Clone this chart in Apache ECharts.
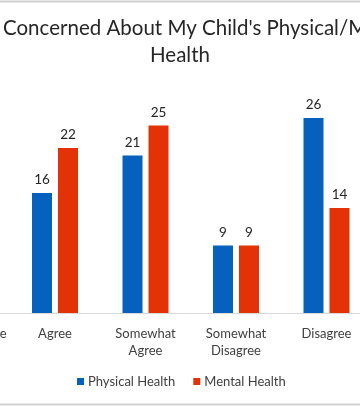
<!DOCTYPE html>
<html><head><meta charset="utf-8">
<script src="https://cdn.jsdelivr.net/npm/echarts@6/dist/echarts.min.js"></script>
<style>html,body{margin:0;padding:0;background:#fff;overflow:hidden;width:360px;height:406px}#c{position:absolute;left:-90px;top:0;width:562px;height:406px}</style>
</head><body><div id="c"></div>
<script>
const categories = ["Strongly Agree", "Agree", "Somewhat Agree", "Somewhat Disagree", "Disagree", "Strongly Disagree"];
const physical = [null, 16, 21, 9, 26, null];
const mental = [null, 22, 25, 9, 14, null];
const titleLine1 = "Concerned About My Child's Physical/Mental";
const titleLine2 = "Health";
const FONT = "Lato";
const OX = 90;
const chart = echarts.init(document.getElementById('c'), null, {renderer: 'canvas'});
const lbl = {show: true, position: 'top', distance: 6, color: '#262626', fontSize: 13.5, fontFamily: FONT};
chart.setOption({
  animation: false,
  graphic: [
    {type: 'line', shape: {x1: 0, y1: 1.5, x2: 562, y2: 1.5}, style: {stroke: '#d0d0d0', lineWidth: 2}},
    {type: 'line', shape: {x1: 0, y1: 404.5, x2: 562, y2: 404.5}, style: {stroke: '#d0d0d0', lineWidth: 2}},
    {type: 'text', x: OX + 3, y: 28, style: {text: titleLine1, font: '20.5px ' + FONT, fill: '#262626', textAlign: 'left', textVerticalAlign: 'middle'}},
    {type: 'text', x: OX + 180, y: 55, style: {text: titleLine2, font: '20.5px ' + FONT, fill: '#262626', textAlign: 'center', textVerticalAlign: 'middle'}}
  ],
  legend: {
    left: OX + 77, top: 375, padding: 0, itemWidth: 7, itemHeight: 7, itemGap: 18, icon: 'rect',
    textStyle: {color: '#404040', fontSize: 13, fontFamily: FONT, padding: [0, 0, 0, -1]},
    data: ['Physical Health', 'Mental Health']
  },
  grid: {left: OX - 80.75, width: 543, top: 88, height: 225, containLabel: false},
  xAxis: {
    type: 'category', data: categories,
    axisLine: {lineStyle: {color: '#d9d9d9', width: 1}},
    axisTick: {show: false},
    axisLabel: {interval: 0, color: '#404040', fontSize: 13, fontFamily: FONT, margin: 12, lineHeight: 17,
      formatter: v => v.startsWith('Somewhat ') ? v.replace(' ', '\n') : v}
  },
  yAxis: {type: 'value', min: 0, max: 30, show: false, splitLine: {show: false}},
  series: [
    {name: 'Physical Health', type: 'bar', data: physical, barWidth: 20, barGap: '30%', itemStyle: {color: '#0660BE'}, label: lbl},
    {name: 'Mental Health', type: 'bar', data: mental, barWidth: 20, itemStyle: {color: '#E33205'}, label: lbl}
  ]
});
</script></body></html>
